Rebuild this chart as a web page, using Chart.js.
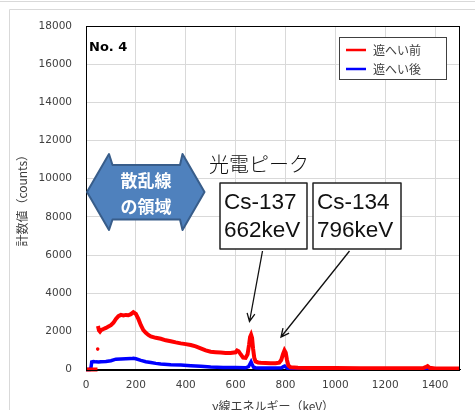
<!DOCTYPE html>
<html>
<head>
<meta charset="utf-8">
<script src="https://cdn.jsdelivr.net/npm/chart.js@4/dist/chart.umd.min.js"></script>
<style>
  html, body { margin: 0; padding: 0; background: #fff; overflow: hidden; }
  canvas { display: block; }
</style>
</head>
<body>
<canvas id="myChart" width="475" height="410"></canvas>
<script>
// 遮へい前 (red) spectrum, keV / counts
var redEnergy = [0, 10, 20, 30, 40, 46, 46.5, 47, 47.5, 48, 52, 56, 60, 70, 80, 90, 100, 110, 120, 130,
    140, 150, 160, 170, 180, 190, 200, 210, 220, 230, 240, 250, 260, 280, 300, 320, 340, 360, 380, 400,
    420, 440, 460, 480, 500, 520, 540, 560, 580, 600, 606, 612, 620, 630, 640, 648, 654, 658, 662, 666,
    670, 675, 680, 690, 700, 720, 740, 760, 775, 783, 790, 796, 801, 806, 812, 820, 850, 900, 1000, 1100,
    1200, 1300, 1350, 1362, 1370, 1378, 1400, 1450, 1500];
var redCounts = [0, 0, 0, 0, 0, 0, null, 1070, null, 2280, 2050, 1990, 2060, 2120, 2180, 2250, 2320, 2450, 2650, 2800,
    2860, 2830, 2860, 2840, 2900, 3000, 2920, 2650, 2320, 2060, 1920, 1810, 1730, 1660, 1610, 1530, 1480, 1420, 1370, 1330,
    1280, 1210, 1110, 1000, 930, 910, 890, 870, 860, 900, 1000, 960, 800, 620, 610, 800, 1300, 1700, 1820, 1650,
    1100, 600, 420, 370, 350, 340, 330, 330, 360, 500, 800, 1000, 880, 500, 200, 120, 90, 80, 75, 70,
    65, 60, 60, 120, 180, 90, 55, 50, 50];

// 遮へい後 (blue) spectrum
var blueEnergy = [0, 15, 20, 23, 30, 40, 50, 60, 80, 100, 120, 140, 160, 180, 190, 200, 220, 240, 260, 280,
    300, 340, 380, 420, 460, 500, 550, 600, 640, 652, 658, 662, 666, 672, 680, 700, 750, 785, 792, 797,
    802, 810, 820, 900, 1000, 1200, 1400, 1500];
var blueCounts = [0, 0, 100, 400, 420, 400, 390, 410, 420, 460, 540, 550, 560, 570, 590, 560, 480, 410, 370, 320,
    290, 250, 230, 200, 170, 130, 110, 100, 90, 150, 300, 400, 280, 120, 90, 80, 75, 90, 150, 180,
    120, 50, 25, 20, 20, 15, 15, 10];

var seriesNames = ['遮へい前', '遮へい後'];
var xTicks = [0, 200, 400, 600, 800, 1000, 1200, 1400];
var yTicks = [0, 2000, 4000, 6000, 8000, 10000, 12000, 14000, 16000, 18000];
var xTitle = 'γ線エネルギー（keV）';
var yTitle = '計数値（counts）';

function toPoints(xs, ys) {
    return xs.map(function (x, i) { return { x: x, y: ys[i] }; });
}

var jpFont = '"Noto Sans CJK JP", "DejaVu Sans", sans-serif';
var numFont = '"DejaVu Sans", sans-serif';

function drawArrow(ctx, x1, y1, x2, y2) {
    var a = Math.atan2(y2 - y1, x2 - x1), h = 9, s = 0.45;
    ctx.beginPath();
    ctx.moveTo(x1, y1);
    ctx.lineTo(x2, y2);
    ctx.moveTo(x2 - h * Math.cos(a - s), y2 - h * Math.sin(a - s));
    ctx.lineTo(x2, y2);
    ctx.lineTo(x2 - h * Math.cos(a + s), y2 - h * Math.sin(a + s));
    ctx.stroke();
}

var decorations = {
    id: 'decorations',
    beforeDraw: function (chart) {
        var ctx = chart.ctx;
        ctx.save();
        ctx.fillStyle = '#fff';
        ctx.fillRect(0, 0, chart.width, chart.height);
        ctx.strokeStyle = '#d9d9d9';
        ctx.lineWidth = 1;
        ctx.beginPath();
        ctx.moveTo(0, 1.5); ctx.lineTo(chart.width, 1.5);
        ctx.moveTo(9.5, chart.height); ctx.lineTo(9.5, 9.5); ctx.lineTo(chart.width, 9.5);
        ctx.stroke();
        ctx.restore();
    },
    afterDatasetsDraw: function (chart) {
        var ctx = chart.ctx, a = chart.chartArea;
        ctx.save();
        ctx.strokeStyle = '#000';
        ctx.lineWidth = 1;
        ctx.strokeRect(Math.round(a.left) + 0.5, Math.round(a.top) + 0.5,
            Math.round(a.right - a.left) - 1, Math.round(a.bottom - a.top));
        ctx.restore();
    },
    afterDraw: function (chart) {
        var ctx = chart.ctx;
        ctx.save();

        // No. 4
        ctx.fillStyle = '#000';
        ctx.font = 'bold 13px ' + numFont;
        ctx.textBaseline = 'middle';
        ctx.fillText('No. 4', 89, 48);

        // legend
        ctx.fillStyle = '#fff';
        ctx.fillRect(340, 38, 106, 41);
        ctx.strokeStyle = '#404040';
        ctx.lineWidth = 1;
        ctx.strokeRect(339.5, 37.5, 107, 42);
        var colors = ['#ff0000', '#0000ff'];
        ctx.font = '12px ' + jpFont;
        for (var i = 0; i < 2; i++) {
            var ly = 50 + i * 19;
            ctx.strokeStyle = colors[i];
            ctx.lineWidth = 2.5;
            ctx.beginPath();
            ctx.moveTo(346, ly); ctx.lineTo(366, ly);
            ctx.stroke();
            ctx.fillStyle = '#404040';
            ctx.fillText(seriesNames[i], 373, ly);
        }

        // scatter region double arrow
        ctx.beginPath();
        ctx.moveTo(87, 192);
        ctx.lineTo(109, 154);
        ctx.lineTo(112.5, 165);
        ctx.lineTo(180, 165);
        ctx.lineTo(182.5, 154);
        ctx.lineTo(204.5, 192);
        ctx.lineTo(182.5, 230);
        ctx.lineTo(180, 219.5);
        ctx.lineTo(112.5, 219.5);
        ctx.lineTo(109, 230);
        ctx.closePath();
        ctx.fillStyle = '#4f81bd';
        ctx.fill();
        ctx.strokeStyle = '#385d8a';
        ctx.lineWidth = 2;
        ctx.lineJoin = 'round';
        ctx.stroke();
        ctx.fillStyle = '#fff';
        ctx.textAlign = 'center';
        ctx.font = 'bold 17px ' + jpFont;
        ctx.fillText('散乱線', 146, 181);
        ctx.fillText('の領域', 146, 207);

        // photo peak label
        ctx.textAlign = 'left';
        ctx.fillStyle = '#111';
        ctx.font = '300 20px ' + jpFont;
        ctx.fillText('光電ピーク', 209, 164);

        // peak boxes
        ctx.strokeStyle = '#222';
        ctx.lineWidth = 1.5;
        ctx.fillStyle = '#fff';
        ctx.fillRect(220, 183, 87, 66);
        ctx.fillRect(313, 183, 88, 66);
        ctx.strokeRect(220, 183, 87, 66);
        ctx.strokeRect(313, 183, 88, 66);
        ctx.fillStyle = '#111';
        ctx.font = '22.5px "Liberation Sans", Arial, sans-serif';
        ctx.fillText('Cs-137', 224, 203);
        ctx.fillText('662keV', 224, 231);
        ctx.fillText('Cs-134', 317, 203);
        ctx.fillText('796keV', 317, 231);

        // arrows
        ctx.strokeStyle = '#111';
        ctx.lineWidth = 1.3;
        ctx.lineJoin = 'miter';
        drawArrow(ctx, 262.5, 251, 249.5, 321.5);
        drawArrow(ctx, 349.5, 251, 281, 337);

        ctx.restore();
    }
};

var ctx = document.getElementById('myChart');
var myChart = new Chart(ctx, {
    type: 'line',
    data: {
        datasets: [
            {
                label: seriesNames[0],
                data: toPoints(redEnergy, redCounts),
                borderColor: '#ff0000',
                backgroundColor: '#ff0000',
                borderWidth: 4,
                pointRadius: function (c) {
                    var i = c.dataIndex;
                    return redCounts[i] !== null && redCounts[i - 1] === null && redCounts[i + 1] === null ? 1.8 : 0;
                },
                pointBorderWidth: 0,
                tension: 0,
                spanGaps: false,
                clip: 6
            },
            {
                label: seriesNames[1],
                data: toPoints(blueEnergy, blueCounts),
                borderColor: '#0000ff',
                backgroundColor: '#0000ff',
                borderWidth: 3.5,
                pointRadius: 0,
                tension: 0,
                clip: 6
            }
        ]
    },
    options: {
        responsive: false,
        animation: false,
        layout: { padding: { top: 26, right: 15, left: 0, bottom: 0 } },
        plugins: {
            legend: { display: false },
            tooltip: { enabled: false }
        },
        scales: {
            x: {
                type: 'linear',
                min: 0,
                max: 1500,
                afterFit: function (scale) { scale.height = 40.5; },
                afterBuildTicks: function (scale) {
                    scale.ticks = xTicks.map(function (v) { return { value: v }; });
                },
                ticks: {
                    padding: 9, autoSkip: false, maxRotation: 0,
                    color: '#404040', font: { family: numFont, size: 10.5 },
                    callback: function (v) { return String(v); }
                },
                grid: { color: '#d9d9d9', drawTicks: false },
                border: { color: '#000', width: 1 },
                title: {
                    display: true, text: xTitle, color: '#404040',
                    font: { family: jpFont, size: 12 }, padding: { top: 0, bottom: -4 }
                }
            },
            y: {
                min: 0,
                max: 18000,
                afterFit: function (scale) { scale.width = 86; },
                afterBuildTicks: function (scale) {
                    scale.ticks = yTicks.map(function (v) { return { value: v }; });
                },
                ticks: {
                    padding: 14, autoSkip: false,
                    color: '#404040', font: { family: numFont, size: 10.5 },
                    callback: function (v) { return String(v); }
                },
                grid: { color: '#d9d9d9', drawTicks: false },
                border: { color: '#000', width: 1 },
                title: {
                    display: true, text: yTitle, color: '#404040',
                    font: { family: jpFont, size: 12 }, padding: { top: 15, bottom: 0 }
                }
            }
        }
    },
    plugins: [decorations]
});
</script>
</body>
</html>
